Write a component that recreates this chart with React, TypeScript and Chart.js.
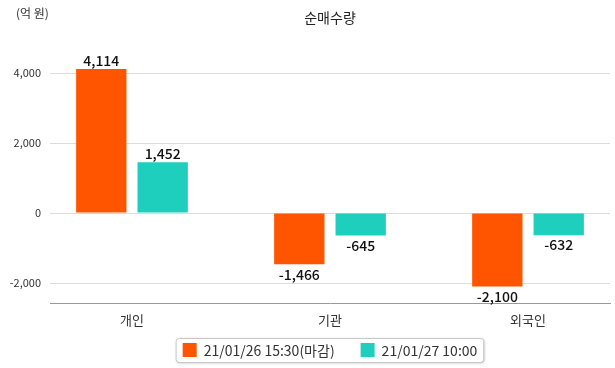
import React, { useEffect, useRef } from 'react';
import { Chart, registerables } from 'chart.js';
Chart.register(...registerables);

const categories = ['개인', '기관', '외국인'];
const seriesNames = ['21/01/26 15:30(마감)', '21/01/27 10:00'];
const seriesA = [4114, -1466, -2100];
const seriesB = [1452, -645, -632];
const yTicks = [-2000, 0, 2000, 4000];
const colors = ['#FF5400', '#1FCFBE'];
const chartTitle = '순매수량';
const unitLabel = '(억 원)';
const FONT = "'Noto Sans CJK KR', 'Noto Sans', sans-serif";

const fmt = (v: number) => v.toLocaleString('en-US');

const overlayPlugin = {
  id: 'overlay',
  afterDatasetsDraw(chart: any) {
    const ctx = chart.ctx;
    ctx.save();
    ctx.font = `500 14px ${FONT}`;
    ctx.fillStyle = '#111';
    ctx.textAlign = 'center';
    chart.data.datasets.forEach((ds: any, i: number) => {
      const meta = chart.getDatasetMeta(i);
      meta.data.forEach((el: any, j: number) => {
        const v = ds.data[j].y;
        if (v >= 0) {
          ctx.textBaseline = 'bottom';
          ctx.fillText(fmt(v), el.x, el.y - 1);
        } else {
          ctx.textBaseline = 'top';
          ctx.fillText(fmt(v), el.x, el.y + 3);
        }
      });
    });
    ctx.restore();
  },
  afterDraw(chart: any) {
    const ctx = chart.ctx;
    const area = chart.chartArea;
    const cx = (area.left + area.right) / 2;
    ctx.save();
    ctx.font = `14px ${FONT}`;
    ctx.fillStyle = '#222';
    ctx.textAlign = 'center';
    ctx.textBaseline = 'middle';
    ctx.fillText(chartTitle, cx, 18);
    ctx.font = `12px ${FONT}`;
    ctx.fillStyle = '#333';
    ctx.textAlign = 'left';
    ctx.fillText(unitLabel, 16, 13);
    ctx.font = `14px ${FONT}`;
    const box = 14, gapT = 7, gapI = 26;
    const widths = seriesNames.map((s) => ctx.measureText(s).width);
    const total = widths.reduce((a, w) => a + box + gapT + w, 0) + gapI * (seriesNames.length - 1);
    let x = cx - total / 2;
    const cy = 350;
    const bx = x - 7, by = 338, bw = total + 13, bh = 24;
    ctx.save();
    ctx.shadowColor = 'rgba(0,0,0,0.25)';
    ctx.shadowBlur = 3;
    ctx.shadowOffsetX = 1;
    ctx.shadowOffsetY = 1;
    ctx.fillStyle = '#fff';
    ctx.beginPath();
    ctx.roundRect(bx, by, bw, bh, 3);
    ctx.fill();
    ctx.restore();
    ctx.strokeStyle = '#c8c8c8';
    ctx.lineWidth = 1;
    ctx.beginPath();
    ctx.roundRect(bx + 0.5, by + 0.5, bw, bh, 3);
    ctx.stroke();
    seriesNames.forEach((s, i) => {
      ctx.fillStyle = colors[i];
      ctx.fillRect(x, cy - box / 2, box, box);
      ctx.fillStyle = '#333';
      ctx.textBaseline = 'middle';
      ctx.fillText(s, x + box + gapT, cy + 1);
      x += box + gapT + widths[i] + gapI;
    });
    ctx.restore();
  },
};

export default function App() {
  const ref = useRef<HTMLCanvasElement>(null);
  useEffect(() => {
    if (!ref.current) return;
    const chart = new Chart(ref.current, {
      type: 'bar',
      data: {
        datasets: [
          {
            label: seriesNames[0],
            data: seriesA.map((y, i) => ({ x: i, y })),
            backgroundColor: colors[0],
          },
          {
            label: seriesNames[1],
            data: seriesB.map((y, i) => ({ x: i, y })),
            backgroundColor: colors[1],
          },
        ],
      },
      options: {
        responsive: false,
        animation: false,
        categoryPercentage: 0.62,
        barPercentage: 0.82,
        layout: { padding: { top: 45, left: 0, right: 5, bottom: 0 } },
        plugins: {
          legend: { display: false },
          title: { display: false },
          tooltip: { enabled: false },
        },
        scales: {
          x: {
            type: 'linear',
            offset: false,
            min: -0.414,
            max: 2.414,
            afterBuildTicks: (scale: any) => {
              scale.ticks = categories.map((_, i) => ({ value: i }));
            },
            afterFit: (scale: any) => {
              scale.height = 65;
            },
            grid: { display: false, drawTicks: false },
            border: { display: true, color: '#999', width: 1 },
            ticks: {
              padding: 9,
              color: '#333',
              font: { family: FONT, size: 13 },
              callback: (v: any) => categories[v] ?? '',
            },
          },
          y: {
            min: -2571,
            max: 4800,
            afterBuildTicks: (scale: any) => {
              scale.ticks = yTicks.map((v) => ({ value: v }));
            },
            afterFit: (scale: any) => {
              scale.width = 50;
            },
            grid: { color: '#dcdcdc', drawTicks: false },
            border: { display: false },
            ticks: {
              padding: 9,
              color: '#333',
              font: { family: FONT, size: 11 },
              callback: (v: any) => fmt(Number(v)),
            },
          },
        },
      },
      plugins: [overlayPlugin],
    } as any);
    return () => chart.destroy();
  }, []);
  return (
    <div style={{ position: 'fixed', left: 0, top: 0, width: 615, height: 368, background: '#fff' }}>
      <canvas ref={ref} width={615} height={368} style={{ display: 'block' }} />
    </div>
  );
}
